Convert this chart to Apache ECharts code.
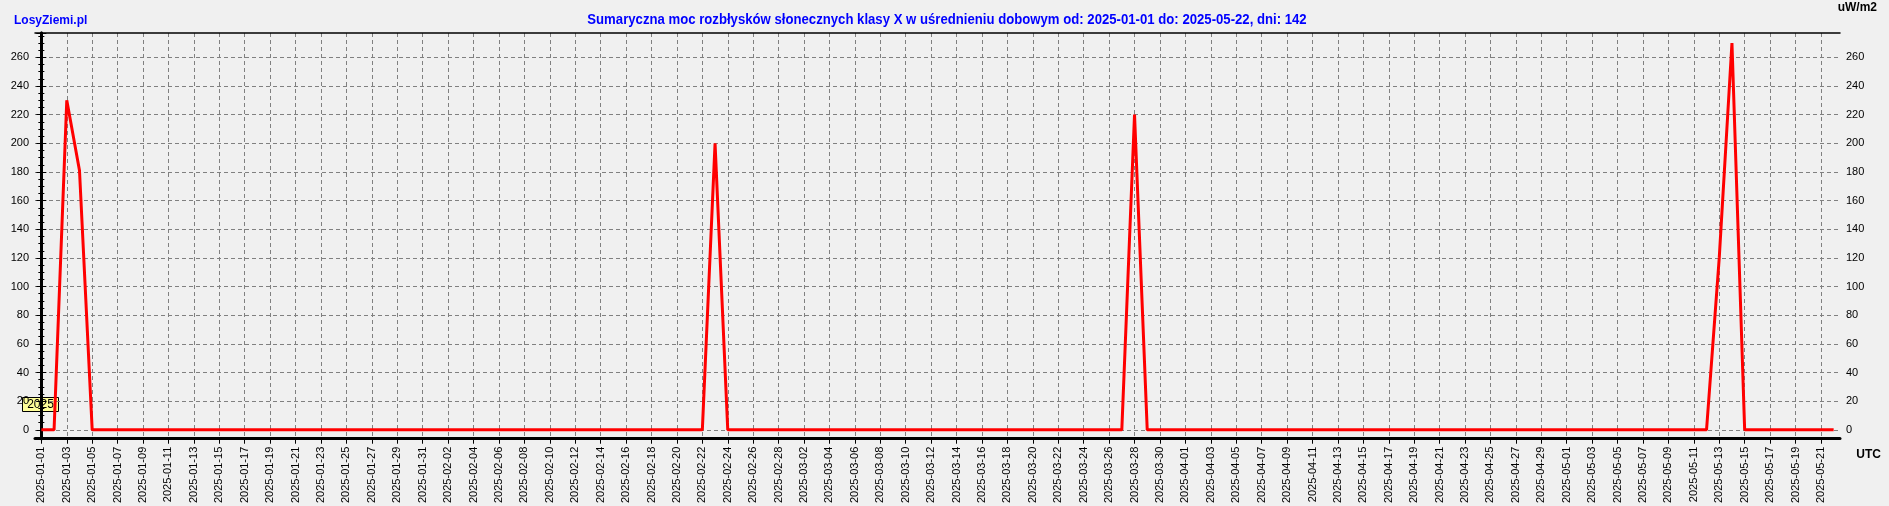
<!DOCTYPE html>
<html>
<head>
<meta charset="utf-8">
<script src="https://cdn.jsdelivr.net/npm/echarts@6/dist/echarts.min.js"></script>
<style>
html,body{margin:0;padding:0;background:#f0f0f0;}
#c{width:1889px;height:506px;}
</style>
</head>
<body>
<div id="c"></div>
<script>
// Categories: days 2025-01-01 .. 2025-05-22 (142 days)
var dayCount = 142;
var categories = [];
(function(){
  var d = new Date(Date.UTC(2025,0,1));
  for (var i=0;i<dayCount;i++){
    categories.push(d.toISOString().slice(0,10));
    d.setUTCDate(d.getUTCDate()+1);
  }
})();

// Daily summed X-class flare power (uW/m2)
var values = [
  0,0,230,181,0,0,0,0,0,0,
  0,0,0,0,0,0,0,0,0,0,
  0,0,0,0,0,0,0,0,0,0,
  0,0,0,0,0,0,0,0,0,0,
  0,0,0,0,0,0,0,0,0,0,
  0,0,0,200,0,0,0,0,0,0,
  0,0,0,0,0,0,0,0,0,0,
  0,0,0,0,0,0,0,0,0,0,
  0,0,0,0,0,0,220,0,0,0,
  0,0,0,0,0,0,0,0,0,0,
  0,0,0,0,0,0,0,0,0,0,
  0,0,0,0,0,0,0,0,0,0,
  0,0,0,0,0,0,0,0,0,0,
  0,0,120,270,0,0,0,0,0,0,
  0,0
];

var yTicks = [0,20,40,60,80,100,120,140,160,180,200,220,240,260];

var titleText = 'Sumaryczna moc rozbłysków słonecznych klasy X w uśrednieniu dobowym od: 2025-01-01 do: 2025-05-22, dni: 142';

var chart = echarts.init(document.getElementById('c'), null, {renderer:'canvas'});

var gridLine = {show:true, showMinLine:false, showMaxLine:false, lineStyle:{color:'#808080', width:1, type:[4,3]}};
var lblFont = {fontFamily:'Liberation Sans, Arial, sans-serif', fontSize:11, color:'#000'};

var yBase = {
  type:'value', min:-6.2, max:277,
  minInterval:20, maxInterval:20,
  axisLine:{show:true, lineStyle:{color:'#000', width:3}},
  axisTick:{show:true, length:5, lineStyle:{color:'#000', width:1}},
  minorTick:{show:true, splitNumber:4, length:3, lineStyle:{color:'#000', width:1}},
  axisLabel:Object.assign({margin:6, showMinLabel:false, showMaxLabel:false,
    formatter:function(v){ return yTicks.indexOf(v)>=0 ? String(v) : ''; }}, lblFont)
};

var option = {
  backgroundColor:'#f0f0f0',
  animation:false,
  graphic:[
    {type:'text', x:947, y:20, scaleX:0.877, z:50, style:{text:titleText, fill:'#0000ff', align:'center', verticalAlign:'middle', font:'bold 15px "Liberation Sans", Arial, sans-serif'}},
    {type:'text', left:14, top:15, style:{text:'LosyZiemi.pl', fill:'#0000ff', font:'bold 12px "Liberation Sans", Arial, sans-serif'}},
    {type:'text', right:12, top:2, style:{text:'uW/m2', fill:'#000', font:'bold 12px "Liberation Sans", Arial, sans-serif'}},
    {type:'text', right:8, top:449, style:{text:'UTC', fill:'#000', font:'bold 12px "Liberation Sans", Arial, sans-serif'}},
    {type:'group', left:22, top:397, z:100, children:[
      {type:'rect', shape:{x:0,y:0,width:36,height:14}, style:{fill:'#ffff99', stroke:'#000', lineWidth:1}},
      {type:'text', x:18, y:7, style:{text:'2025', fill:'#000', align:'center', verticalAlign:'middle', font:'12px "Liberation Sans", Arial, sans-serif'}}
    ]}
  ],
  grid:{left:35, right:49, top:33, bottom:66, containLabel:false},
  xAxis:[
    {
      type:'value', min:-0.5, max:dayCount-0.5,
      minInterval:2, maxInterval:2,
      axisLine:{show:true, onZero:false, lineStyle:{color:'#000', width:3}},
      axisTick:{show:true, length:5, lineStyle:{color:'#000', width:1}},
      splitLine:gridLine,
      axisLabel:Object.assign({rotate:90, margin:8, showMinLabel:false, showMaxLabel:false,
        formatter:function(v){ var i=Math.round(v); return (Math.abs(v-i)<1e-6 && categories[i]) ? categories[i] : ''; }}, lblFont)
    },
    {
      type:'value', position:'top', min:-0.5, max:dayCount-0.5,
      minInterval:2, maxInterval:2,
      axisLine:{show:true, onZero:false, lineStyle:{color:'#000', width:1.5}},
      axisTick:{show:false}, axisLabel:{show:false}, splitLine:{show:false}
    }
  ],
  yAxis:[
    Object.assign({}, yBase, {position:'left', splitLine:gridLine}),
    Object.assign({}, yBase, {position:'right', splitLine:{show:false}})
  ],
  series:[{
    type:'line',
    data:values.map(function(v,i){return [i,v];}),
    showSymbol:false,
    symbol:'none',
    lineStyle:{color:'#ff0000', width:3},
    itemStyle:{color:'#ff0000'},
    z:10
  }]
};
chart.setOption(option);
</script>
</body>
</html>
